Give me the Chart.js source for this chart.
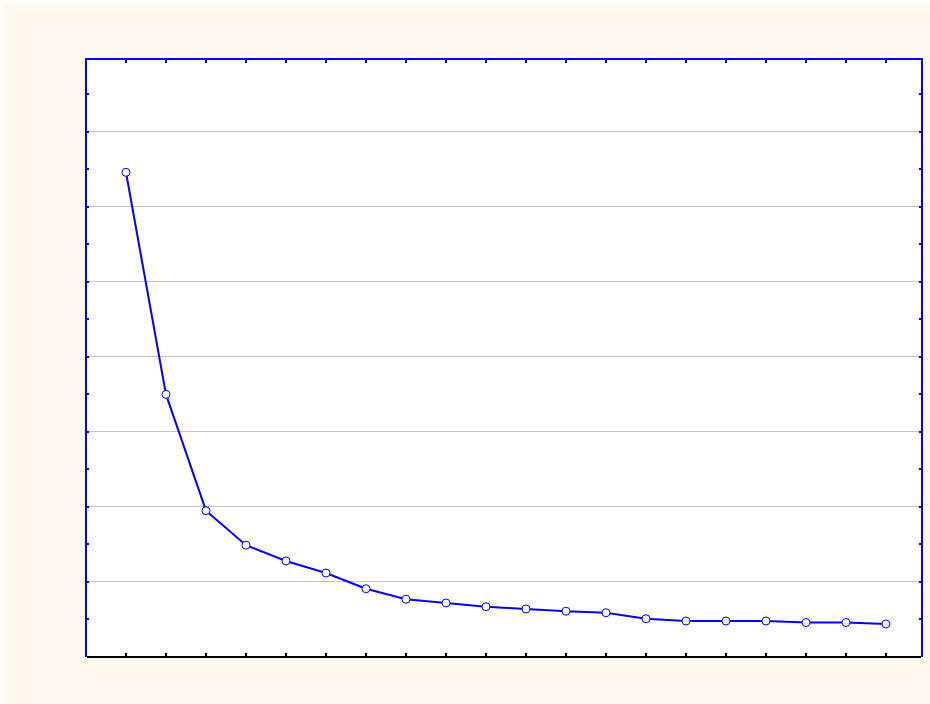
<!DOCTYPE html>
<html>
<head>
<meta charset="utf-8">
<script src="https://cdn.jsdelivr.net/npm/chart.js@4/dist/chart.umd.min.js"></script>
<style>
    html, body { margin: 0; padding: 0; background: #ffffff; }
    #wrap { position: absolute; left: 0; top: 0; width: 930px; height: 704px; }
</style>
</head>
<body>
<div id="wrap"><canvas id="chart"></canvas></div>
<script>
// factor numbers and their values (scree-like curve)
const categories = [1, 2, 3, 4, 5, 6, 7, 8, 9, 10, 11, 12, 13, 14, 15, 16, 17, 18, 19, 20];
const values = [6.46, 3.50, 1.95, 1.49, 1.28, 1.12, 0.91, 0.77, 0.72, 0.67,
                0.64, 0.61, 0.59, 0.51, 0.48, 0.48, 0.48, 0.46, 0.46, 0.44];
const gridValues = [1, 2, 3, 4, 5, 6, 7];
const minorValues = [0.5, 1, 1.5, 2, 2.5, 3, 3.5, 4, 4.5, 5, 5.5, 6, 6.5, 7, 7.5];

const BLUE = '#0000ff';

// frame, inside ticks and backgrounds
const framePlugin = {
    id: 'frame',
    beforeDraw(chart) {
        const { ctx, chartArea: a } = chart;
        ctx.save();
        ctx.fillStyle = '#fdf9ee';
        ctx.fillRect(3, 3, chart.width - 3, chart.height - 3);
        ctx.fillStyle = '#ffffff';
        ctx.fillRect(a.left, a.top, a.right - a.left, a.bottom - a.top);
        ctx.restore();
    },
    afterDatasetsDraw(chart) {
        const { ctx, chartArea: a, scales } = chart;
        ctx.save();
        ctx.lineWidth = 2;
        // ticks on x
        categories.forEach(c => {
            const px = Math.round(scales.x.getPixelForValue(c));
            ctx.strokeStyle = '#000000';
            ctx.beginPath(); ctx.moveTo(px, a.bottom); ctx.lineTo(px, a.bottom - 4); ctx.stroke();
            ctx.strokeStyle = BLUE;
            ctx.beginPath(); ctx.moveTo(px, a.top); ctx.lineTo(px, a.top + 4); ctx.stroke();
        });
        // ticks on y
        ctx.strokeStyle = BLUE;
        minorValues.forEach(v => {
            const py = Math.round(scales.y.getPixelForValue(v));
            ctx.beginPath(); ctx.moveTo(a.left, py); ctx.lineTo(a.left + 3, py); ctx.stroke();
            ctx.beginPath(); ctx.moveTo(a.right, py); ctx.lineTo(a.right - 3, py); ctx.stroke();
        });
        // frame
        ctx.beginPath();
        ctx.moveTo(a.left, a.bottom);
        ctx.lineTo(a.left, a.top);
        ctx.lineTo(a.right, a.top);
        ctx.lineTo(a.right, a.bottom);
        ctx.stroke();
        ctx.strokeStyle = '#000000';
        ctx.beginPath(); ctx.moveTo(a.left + 1, a.bottom); ctx.lineTo(a.right - 1, a.bottom); ctx.stroke();
        ctx.restore();
    }
};

new Chart(document.getElementById('chart'), {
    type: 'line',
    data: {
        datasets: [{
            data: categories.map((c, i) => ({ x: c, y: values[i] })),
            borderColor: BLUE,
            borderWidth: 2,
            backgroundColor: '#ffffff',
            pointBackgroundColor: '#ffffff',
            pointBorderColor: BLUE,
            pointBorderWidth: 1,
            pointRadius: 4,
            tension: 0
        }]
    },
    options: {
        responsive: true,
        maintainAspectRatio: false,
        animation: false,
        layout: { padding: { left: 86, top: 59, right: 8, bottom: 47 } },
        plugins: { legend: { display: false }, tooltip: { enabled: false } },
        scales: {
            x: {
                type: 'linear', min: 0, max: 20.9,
                ticks: { display: false },
                grid: { display: false, drawTicks: false },
                border: { display: false }
            },
            y: {
                min: 0, max: 7.97,
                afterBuildTicks: s => { s.ticks = gridValues.map(v => ({ value: v })); },
                ticks: { display: false },
                grid: { color: '#c4c4c4', lineWidth: 1, drawTicks: false },
                border: { display: false }
            }
        }
    },
    plugins: [framePlugin]
});
</script>
</body>
</html>
